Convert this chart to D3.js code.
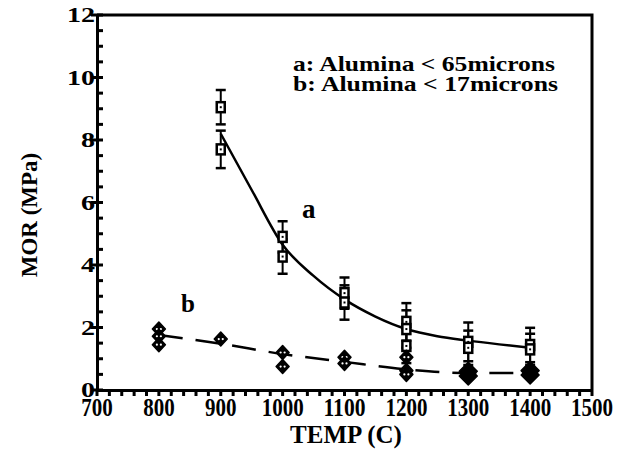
<!DOCTYPE html>
<html>
<head>
<meta charset="utf-8">
<script src="https://cdn.jsdelivr.net/npm/d3@7"></script>
</head>
<body style="margin:0">
<script>
// series a: Alumina < 65 microns (open squares with error bars)
var aTemp = [900, 900, 1000, 1000, 1100, 1100, 1200, 1200, 1200, 1300, 1300, 1400, 1400];
var aMor  = [9.05, 7.7, 4.9, 4.27, 3.1, 2.8, 2.18, 1.95, 1.41, 1.54, 1.35, 1.44, 1.3];
var aErr  = [0.55, 0.6, 0.5, 0.55, 0.5, 0.55, 0.6, 0.6, 0.55, 0.62, 0.55, 0.55, 0.5];

// fitted curve a
var aFitTemp = [900, 950, 1000, 1050, 1100, 1150, 1200, 1250, 1300, 1350, 1400];
var aFitMor  = [8.2, 6.4, 4.65, 3.65, 2.9, 2.35, 1.95, 1.72, 1.58, 1.46, 1.35];

// series b: Alumina < 17 microns (diamonds)
var bTemp = [800, 800, 800, 900, 1000, 1000, 1100, 1100, 1200, 1200, 1200, 1300, 1300, 1400, 1400];
var bMor  = [1.95, 1.72, 1.45, 1.63, 1.2, 0.75, 1.05, 0.85, 1.05, 0.62, 0.5, 0.45, 0.6, 0.48, 0.62];

// fitted dashed line b
var bFitTemp = [800, 900, 1000, 1100, 1200, 1300, 1400];
var bFitMor  = [1.76, 1.48, 1.15, 0.9, 0.66, 0.54, 0.55];

var xTicks = [700, 800, 900, 1000, 1100, 1200, 1300, 1400, 1500];
var yTicks = [0, 2, 4, 6, 8, 10, 12];
var legendLines = ["a: Alumina < 65microns", "b: Alumina < 17microns"];

var width = 617, height = 463;
var margin = {top: 15, right: 25, bottom: 73, left: 97};

var svg = d3.select("body").append("svg")
    .attr("width", width)
    .attr("height", height);

var x = d3.scaleLinear().domain([700, 1500]).range([margin.left, width - margin.right]);
var y = d3.scaleLinear().domain([0, 12]).range([height - margin.bottom, margin.top]);

// every label goes through here so they all get the same serif bold face
function label(sel, size) {
    return sel.attr("font-family", "Liberation Serif")
        .attr("font-weight", "bold")
        .attr("font-size", size)
        .attr("fill", "#000");
}

// frame (top and right)
svg.append("path")
    .attr("d", "M" + x(700) + "," + y(12) + "H" + x(1500) + "V" + y(0))
    .attr("fill", "none")
    .attr("stroke", "#000")
    .attr("stroke-width", 3);

// minor ticks: every 20 below the x axis, every 0.5 inside the y axis
svg.append("g")
    .selectAll("line")
    .data(d3.range(700, 1501, 20))
    .join("line")
    .attr("x1", function(d) { return x(d); })
    .attr("x2", function(d) { return x(d); })
    .attr("y1", y(0))
    .attr("y2", y(0) + 6)
    .attr("stroke", "#000")
    .attr("stroke-width", 3);

svg.append("g")
    .selectAll("line")
    .data(d3.range(0, 12.01, 0.5))
    .join("line")
    .attr("x1", function(d) { return yTicks.indexOf(d) >= 0 ? x(700) - 6 : x(700); })
    .attr("x2", x(700) + 6)
    .attr("y1", function(d) { return y(d); })
    .attr("y2", function(d) { return y(d); })
    .attr("stroke", "#000")
    .attr("stroke-width", 3);

// axis lines
svg.append("g")
    .attr("transform", "translate(0," + y(0) + ")")
    .call(d3.axisBottom(x).tickValues([]).tickSizeOuter(0))
    .select(".domain").attr("stroke-width", 3);
svg.append("g")
    .attr("transform", "translate(" + x(700) + ",0)")
    .call(d3.axisLeft(y).tickValues([]).tickSizeOuter(0))
    .select(".domain").attr("stroke-width", 3);

// tick labels
label(svg.append("g").selectAll("text").data(xTicks).join("text"), 26)
    .attr("x", function(d) { return x(d); })
    .attr("y", 416)
    .attr("text-anchor", "middle")
    .attr("textLength", function(d) { return String(d).length * 10.5; })
    .attr("lengthAdjust", "spacingAndGlyphs")
    .text(function(d) { return d; });

label(svg.append("g").selectAll("text").data(yTicks).join("text"), 22)
    .attr("x", x(700) - 2)
    .attr("y", function(d) { return y(d) + 7; })
    .attr("text-anchor", "end")
    .attr("textLength", function(d) { return String(d).length * 14; })
    .attr("lengthAdjust", "spacingAndGlyphs")
    .text(function(d) { return d; });

// axis titles
label(svg.append("text"), 25)
    .attr("x", 346)
    .attr("y", 443)
    .attr("text-anchor", "middle")
    .text("TEMP (C)");

label(svg.append("text"), 23)
    .attr("transform", "translate(37,215) rotate(-90)")
    .attr("text-anchor", "middle")
    .text("MOR (MPa)");

// legend
label(svg.append("g").selectAll("text").data(legendLines).join("text"), 21)
    .attr("x", 293)
    .attr("y", function(d, i) { return 71 + i * 20; })
    .attr("textLength", function(d, i) { return i ? 265 : 262; })
    .attr("lengthAdjust", "spacingAndGlyphs")
    .text(function(d) { return d; });

// series labels
label(svg.append("text"), 27).attr("x", 302).attr("y", 218).text("a");
label(svg.append("text"), 25).attr("x", 181).attr("y", 312).text("b");

// fitted curves
var line = d3.line()
    .x(function(d) { return x(d[0]); })
    .y(function(d) { return y(d[1]); })
    .curve(d3.curveMonotoneX);

svg.append("path")
    .datum(d3.zip(aFitTemp, aFitMor))
    .attr("d", line)
    .attr("fill", "none")
    .attr("stroke", "#000")
    .attr("stroke-width", 2.5);

svg.append("path")
    .datum(d3.zip(bFitTemp, bFitMor))
    .attr("d", line)
    .attr("fill", "none")
    .attr("stroke", "#000")
    .attr("stroke-width", 2.5)
    .attr("stroke-dasharray", "24,13");

// series a error bars and squares
var aData = aTemp.map(function(t, i) { return {t: t, v: aMor[i], e: aErr[i]}; });

var errs = svg.append("g").selectAll("g").data(aData).join("g");
errs.append("line")
    .attr("x1", function(d) { return x(d.t); })
    .attr("x2", function(d) { return x(d.t); })
    .attr("y1", function(d) { return y(d.v + d.e); })
    .attr("y2", function(d) { return y(d.v - d.e); })
    .attr("stroke", "#000").attr("stroke-width", 2);
errs.selectAll(".cap")
    .data(function(d) { return [d.v + d.e, d.v - d.e].map(function(v) { return {t: d.t, v: v}; }); })
    .join("line")
    .attr("class", "cap")
    .attr("x1", function(d) { return x(d.t) - 5; })
    .attr("x2", function(d) { return x(d.t) + 5; })
    .attr("y1", function(d) { return y(d.v); })
    .attr("y2", function(d) { return y(d.v); })
    .attr("stroke", "#000").attr("stroke-width", 2.5);

var squares = svg.append("g").selectAll("g").data(aData).join("g")
    .attr("transform", function(d) { return "translate(" + x(d.t) + "," + y(d.v) + ")"; });
squares.append("rect")
    .attr("x", -4).attr("y", -5).attr("width", 8).attr("height", 10)
    .attr("fill", "#fff").attr("stroke", "#000").attr("stroke-width", 2.5);
squares.append("rect")
    .attr("x", -1).attr("y", -1).attr("width", 2).attr("height", 2)
    .attr("fill", "#000");

// series b diamonds
var bData = bTemp.map(function(t, i) { return {t: t, v: bMor[i]}; });
var diamonds = svg.append("g").selectAll("g").data(bData).join("g")
    .attr("transform", function(d) { return "translate(" + x(d.t) + "," + y(d.v) + ")"; });
diamonds.append("path")
    .attr("d", function(d) { return d.t >= 1300 ? "M0,-9L9,0L0,9L-9,0Z" : "M0,-7L6.5,0L0,7L-6.5,0Z"; })
    .attr("fill", "#000")
    .attr("stroke", "#000")
    .attr("stroke-width", 1.5)
    .attr("stroke-linejoin", "round");
diamonds.filter(function(d) { return d.t < 1300; })
    .selectAll("circle")
    .data([-2, 2])
    .join("circle")
    .attr("cx", function(d) { return d; })
    .attr("cy", 0)
    .attr("r", 1.1)
    .attr("fill", "#fff");
</script>
</body>
</html>
